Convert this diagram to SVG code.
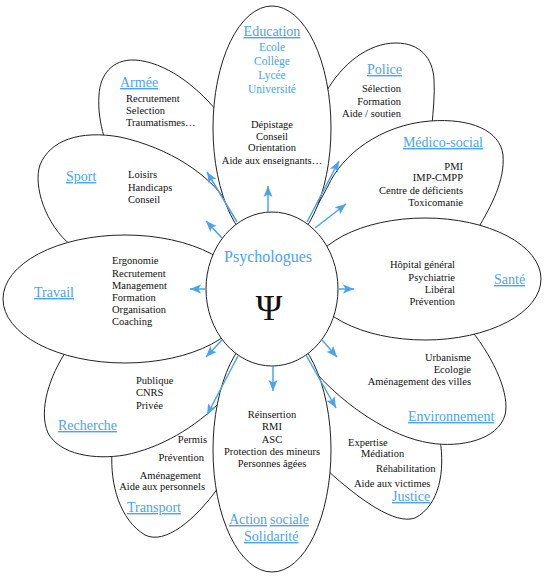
<svg xmlns="http://www.w3.org/2000/svg" width="546" height="576" viewBox="0 0 546 576">
<defs>
<style>
.petal{fill:#fff;stroke:#222;stroke-width:1}
.t{font-family:"Liberation Serif","Times New Roman",serif;font-size:10.5px;fill:#111}
.b{font-family:"Liberation Serif","Times New Roman",serif;font-size:11.5px;fill:#4da3ea}
.h{font-family:"Liberation Serif","Times New Roman",serif;font-size:14px;fill:#4da3ea;text-decoration:underline}
.c{fill:none;stroke:#4da3ea;stroke-width:1.5}
</style>
<marker id="ah" markerUnits="userSpaceOnUse" markerWidth="12" markerHeight="12" viewBox="0 0 12 12" refX="11" refY="6" orient="auto">
<path d="M0,1.5 L11,6 L0,10.5 L2.5,6 Z" fill="#4da3ea"/>
</marker>
</defs>
<rect width="546" height="576" fill="#fff"/>

<g id="armee">
<path class="petal" d="M216,110 C195,85 165,62 135,60 C112,59 100,75 99,95 C98,110 100,122 104,137 L272,289 Z"/>
<text class="h" x="120" y="87">Armée</text>
<text class="t" x="126" y="102">Recrutement</text>
<text class="t" x="126" y="114">Selection</text>
<text class="t" x="126" y="126">Traumatismes…</text>
</g>

<g id="police">
<path class="petal" d="M326,92 C342,64 368,43 396,43 C420,43 433,58 434,80 C435,96 433,110 432,126 L272,289 Z"/>
<text class="h" x="402" y="74" text-anchor="end">Police</text>
<text class="t" x="401" y="92" text-anchor="end">Sélection</text>
<text class="t" x="401" y="105" text-anchor="end">Formation</text>
<text class="t" x="401" y="117" text-anchor="end">Aide / soutien</text>
</g>

<g id="transport">
<path class="petal" d="M112,452 C110,485 120,520 145,535 C165,545 195,520 218,488 L300,420 L272,289 Z"/>
<text class="t" x="207" y="443" text-anchor="end">Permis</text>
<text class="t" x="204" y="461" text-anchor="end">Prévention</text>
<text class="t" x="201" y="479" text-anchor="end">Aménagement</text>
<text class="t" x="205" y="490" text-anchor="end">Aide aux personnels</text>
<text class="h" x="127" y="512">Transport</text>
</g>

<g id="justice">
<path class="petal" d="M440,440 C445,470 440,505 415,518 C395,525 360,500 327,470 L300,420 L272,289 Z"/>
<text class="t" x="348" y="446">Expertise</text>
<text class="t" x="361" y="457">Médiation</text>
<text class="t" x="376" y="472">Réhabilitation</text>
<text class="t" x="354" y="487">Aide aux victimes</text>
<text class="h" x="392" y="501">Justice</text>
</g>

<g id="sport">
<path class="petal" d="M228,204 C210,175 170,148 120,137 C80,130 50,140 40,165 C33,185 45,225 72,246 L272,289 Z"/>
<text class="h" x="66" y="181">Sport</text>
<text class="t" x="128" y="178">Loisirs</text>
<text class="t" x="128" y="191">Handicaps</text>
<text class="t" x="128" y="203">Conseil</text>
</g>

<g id="medico-social">
<path class="petal" d="M328,186 C342,155 380,125 430,121 C470,118 500,130 503,155 C505,180 492,205 477,230 L272,289 Z"/>
<text class="h" x="483" y="147" text-anchor="end">Médico-social</text>
<text class="t" x="463" y="170" text-anchor="end">PMI</text>
<text class="t" x="463" y="181" text-anchor="end">IMP-CMPP</text>
<text class="t" x="463" y="194" text-anchor="end">Centre de déficients</text>
<text class="t" x="463" y="206" text-anchor="end">Toxicomanie</text>
</g>

<g id="recherche">
<path class="petal" d="M67,350 C50,375 38,410 48,433 C60,455 95,460 125,455 C160,448 195,428 222,400 L272,289 Z"/>
<text class="t" x="136" y="384">Publique</text>
<text class="t" x="136" y="396">CNRS</text>
<text class="t" x="136" y="409">Privée</text>
<text class="h" x="58" y="430">Recherche</text>
</g>

<g id="environnement">
<path class="petal" d="M471,330 C495,360 510,395 505,415 C498,440 460,448 430,443 C390,437 345,405 317,374 L300,420 L272,289 Z"/>
<text class="t" x="471" y="361" text-anchor="end">Urbanisme</text>
<text class="t" x="471" y="373" text-anchor="end">Ecologie</text>
<text class="t" x="471" y="385" text-anchor="end">Aménagement des villes</text>
<text class="h" x="408" y="421">Environnement</text>
</g>

<g id="travail">
<ellipse class="petal" cx="125" cy="299" rx="122" ry="64"/>
<text class="h" x="34" y="297">Travail</text>
<text class="t" x="112" y="264">Ergonomie</text>
<text class="t" x="112" y="277">Recrutement</text>
<text class="t" x="112" y="289">Management</text>
<text class="t" x="112" y="301">Formation</text>
<text class="t" x="112" y="313">Organisation</text>
<text class="t" x="112" y="325">Coaching</text>
</g>

<g id="sante">
<ellipse class="petal" cx="425" cy="279" rx="116" ry="61"/>
<text class="h" x="494" y="284">Santé</text>
<text class="t" x="455" y="268" text-anchor="end">Hôpital général</text>
<text class="t" x="455" y="281" text-anchor="end">Psychiatrie</text>
<text class="t" x="455" y="293" text-anchor="end">Libéral</text>
<text class="t" x="455" y="305" text-anchor="end">Prévention</text>
</g>

<g id="education">
<ellipse class="petal" cx="272" cy="128" rx="59" ry="122"/>
<text class="h" x="272" y="36" text-anchor="middle">Education</text>
<text class="b" x="272" y="51" text-anchor="middle">Ecole</text>
<text class="b" x="272" y="65" text-anchor="middle">Collège</text>
<text class="b" x="272" y="79" text-anchor="middle">Lycée</text>
<text class="b" x="272" y="93" text-anchor="middle">Université</text>
<text class="t" x="272" y="128" text-anchor="middle">Dépistage</text>
<text class="t" x="272" y="140" text-anchor="middle">Conseil</text>
<text class="t" x="272" y="151" text-anchor="middle">Orientation</text>
<text class="t" x="272" y="164" text-anchor="middle">Aide aux enseignants…</text>
</g>

<g id="action-sociale">
<ellipse class="petal" cx="272" cy="450" rx="59" ry="122"/>
<text class="t" x="272" y="418" text-anchor="middle">Réinsertion</text>
<text class="t" x="272" y="430" text-anchor="middle">RMI</text>
<text class="t" x="272" y="443" text-anchor="middle">ASC</text>
<text class="t" x="272" y="455" text-anchor="middle">Protection des mineurs</text>
<text class="t" x="272" y="467" text-anchor="middle">Personnes âgées</text>
<text class="h" x="229" y="524">Action</text>
<text class="h" x="270" y="524">sociale</text>
<text class="h" x="244" y="541">Solidarité</text>
</g>

<g id="psychologues">
<ellipse class="petal" cx="272" cy="289" rx="66" ry="77"/>
<text x="268" y="262" text-anchor="middle" style="font-family:'Liberation Serif','Times New Roman',serif;font-size:16px;fill:#4da3ea">Psychologues</text>
<text x="269" y="320" text-anchor="middle" style="font-family:'Liberation Serif','Times New Roman',serif;font-size:36px;fill:#111">Ψ</text>
</g>

<g id="connectors">
<line class="c" x1="268" y1="212" x2="268" y2="186" marker-end="url(#ah)"/>
<line class="c" x1="237" y1="222" x2="207" y2="172" marker-end="url(#ah)"/>
<line class="c" x1="222" y1="238" x2="206" y2="221" marker-end="url(#ah)"/>
<line class="c" x1="206" y1="289" x2="190" y2="289" marker-end="url(#ah)"/>
<line class="c" x1="222" y1="340" x2="206" y2="357" marker-end="url(#ah)"/>
<line class="c" x1="238" y1="356" x2="207" y2="415" marker-end="url(#ah)"/>
<line class="c" x1="273" y1="366" x2="273" y2="391" marker-end="url(#ah)"/>
<line class="c" x1="306" y1="355" x2="336" y2="408" marker-end="url(#ah)"/>
<line class="c" x1="322" y1="340" x2="337" y2="357" marker-end="url(#ah)"/>
<line class="c" x1="338" y1="289" x2="354" y2="289" marker-end="url(#ah)"/>
<line class="c" x1="315" y1="228" x2="346" y2="204" marker-end="url(#ah)"/>
<line class="c" x1="307" y1="222" x2="339" y2="161" marker-end="url(#ah)"/>
</g>
</svg>
